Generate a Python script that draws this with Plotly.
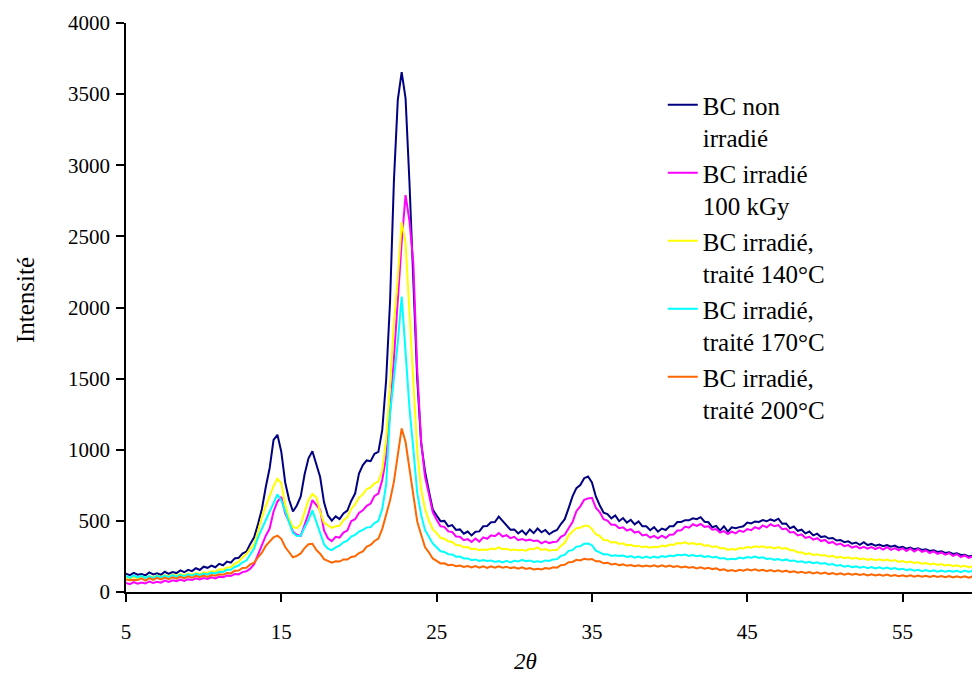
import plotly.graph_objects as go

# 2-theta sampling grid (degrees), 0.25 deg step from 5 to 59.5
two_theta = [round(5 + 0.25 * i, 2) for i in range(219)]

bc_non_irradie = [
    128, 118, 134, 122, 126, 117, 138, 124, 131, 121, 142, 128, 140, 133, 152, 139, 156, 147, 168, 155,
    178, 170, 186, 174, 198, 188, 214, 206, 236, 240, 270, 284, 338, 384, 478, 584, 738, 872, 1070, 1105,
    985, 770, 648, 566, 608, 672, 828, 940, 990, 892, 808, 630, 538, 502, 532, 512, 552, 572, 640, 692,
    832, 892, 925, 920, 972, 985, 1140, 1490, 2040, 2890, 3460, 3655, 3470, 2880, 2250, 1500, 1050, 850, 710, 580,
    538, 498, 500, 462, 470, 436, 440, 410, 425, 398, 424, 426, 462, 464, 490, 492, 530, 498, 468, 438,
    440, 412, 432, 404, 440, 414, 446, 420, 436, 406, 424, 436, 478, 512, 590, 672, 730, 752, 800, 812,
    770, 672, 610, 558, 548, 518, 538, 498, 520, 488, 508, 476, 496, 462, 462, 434, 456, 424, 446, 436,
    462, 462, 492, 492, 505, 504, 518, 512, 526, 494, 490, 455, 465, 432, 462, 424, 455, 448, 456, 462,
    488, 482, 496, 492, 505, 497, 510, 500, 515, 480, 482, 448, 460, 430, 438, 412, 425, 398, 410, 386,
    392, 376, 380, 362, 366, 350, 356, 340, 348, 332, 350, 330, 338, 326, 334, 322, 330, 318, 326, 312,
    318, 305, 312, 300, 308, 296, 300, 288, 294, 282, 286, 275, 280, 268, 272, 260, 262, 250, 255,
]

bc_100kgy = [
    64, 55, 70, 58, 66, 60, 74, 64, 72, 66, 80, 70, 82, 76, 88, 78, 90, 84, 96, 88,
    98, 92, 104, 96, 108, 104, 116, 112, 126, 124, 140, 146, 164, 196, 262, 326, 396, 446, 566, 636,
    668, 552, 496, 424, 402, 394, 466, 552, 646, 612, 578, 432, 378, 358, 388, 382, 418, 432, 498, 512,
    556, 574, 606, 622, 676, 692, 788, 950, 1260, 1640, 2060, 2460, 2790, 2610, 2310, 1560, 1060, 812, 690, 562,
    508, 462, 458, 426, 422, 390, 388, 364, 372, 352, 376, 354, 384, 374, 398, 392, 414, 390, 400, 378,
    388, 364, 372, 362, 368, 358, 362, 342, 356, 344, 352, 354, 388, 402, 448, 492, 568, 602, 648, 658,
    662, 592, 562, 512, 502, 472, 472, 448, 455, 432, 442, 418, 425, 398, 404, 382, 395, 378, 396, 380,
    402, 404, 432, 434, 460, 452, 476, 464, 478, 458, 462, 438, 442, 418, 428, 408, 425, 412, 432, 422,
    442, 434, 456, 444, 468, 454, 476, 462, 470, 442, 446, 418, 422, 398, 405, 380, 388, 368, 378, 358,
    366, 344, 352, 332, 340, 322, 330, 312, 322, 306, 318, 304, 316, 302, 314, 298, 316, 296, 308, 292,
    308, 288, 306, 284, 302, 282, 292, 274, 286, 268, 278, 262, 273, 254, 266, 246, 258, 240, 250,
]

bc_140c = [
    104, 94, 108, 96, 110, 100, 112, 102, 116, 106, 119, 110, 122, 114, 126, 118, 130, 122, 134, 126,
    138, 134, 146, 144, 159, 156, 172, 174, 199, 211, 244, 266, 304, 336, 424, 526, 604, 676, 744, 796,
    764, 616, 514, 456, 449, 476, 564, 646, 689, 666, 564, 486, 469, 451, 462, 466, 504, 526, 584, 616,
    664, 686, 724, 736, 764, 776, 854, 1076, 1454, 1896, 2204, 2600, 2454, 1946, 1504, 996, 724, 586, 504, 441,
    414, 381, 374, 356, 352, 331, 329, 314, 316, 301, 304, 294, 299, 296, 306, 301, 314, 301, 304, 294,
    299, 294, 296, 291, 304, 301, 314, 296, 302, 291, 296, 296, 324, 346, 399, 426, 449, 451, 466, 466,
    444, 406, 394, 366, 364, 348, 352, 338, 342, 328, 332, 321, 324, 314, 319, 312, 318, 314, 326, 321,
    334, 331, 344, 341, 349, 338, 344, 334, 339, 326, 329, 316, 322, 308, 309, 296, 302, 298, 309, 306,
    316, 312, 322, 316, 322, 311, 316, 306, 316, 304, 309, 294, 294, 278, 279, 266, 272, 261, 266, 256,
    259, 248, 254, 242, 248, 238, 244, 234, 240, 230, 236, 226, 232, 224, 230, 221, 228, 218, 224, 212,
    218, 208, 214, 204, 209, 199, 204, 194, 200, 190, 196, 186, 192, 182, 188, 178, 184, 174, 180,
]

bc_170c = [
    114, 100, 116, 102, 114, 100, 112, 98, 114, 102, 116, 104, 118, 106, 120, 110, 124, 114, 128, 118,
    130, 124, 136, 131, 142, 141, 156, 156, 176, 186, 209, 221, 264, 306, 384, 446, 514, 566, 624, 686,
    644, 566, 484, 416, 394, 396, 454, 506, 574, 496, 404, 336, 304, 294, 314, 326, 349, 361, 389, 401,
    424, 436, 454, 456, 484, 501, 584, 756, 1254, 1496, 1754, 2076, 1704, 1296, 1004, 696, 544, 436, 389, 341,
    314, 286, 282, 266, 264, 248, 249, 236, 236, 224, 229, 218, 224, 218, 222, 211, 218, 208, 219, 208,
    219, 214, 226, 216, 222, 211, 216, 211, 222, 218, 229, 231, 254, 261, 289, 294, 319, 321, 339, 341,
    329, 291, 279, 264, 266, 254, 259, 254, 256, 246, 252, 241, 250, 240, 249, 239, 250, 241, 252, 246,
    256, 251, 262, 258, 264, 254, 260, 251, 256, 246, 252, 242, 248, 236, 239, 228, 234, 231, 242, 236,
    246, 241, 250, 240, 244, 232, 236, 226, 232, 222, 229, 218, 222, 211, 216, 206, 212, 202, 209, 199,
    204, 192, 196, 184, 189, 178, 184, 174, 180, 171, 178, 168, 176, 166, 174, 164, 172, 162, 168, 158,
    164, 154, 160, 150, 156, 146, 154, 144, 152, 143, 150, 142, 149, 142, 149, 140, 150, 141, 148,
]

bc_200c = [
    88, 82, 86, 84, 96, 80, 98, 86, 100, 88, 102, 91, 104, 94, 108, 96, 110, 100, 114, 104,
    116, 106, 119, 114, 124, 121, 134, 131, 149, 151, 169, 171, 194, 206, 244, 276, 324, 351, 384, 396,
    374, 316, 279, 244, 254, 271, 309, 336, 339, 296, 269, 231, 219, 206, 216, 214, 229, 228, 246, 251,
    274, 286, 319, 331, 359, 376, 444, 536, 644, 776, 964, 1150, 1054, 866, 674, 496, 404, 316, 279, 236,
    219, 201, 202, 188, 192, 181, 186, 176, 182, 172, 182, 171, 180, 170, 180, 171, 181, 171, 178, 168,
    174, 164, 174, 162, 169, 158, 164, 158, 169, 164, 174, 171, 189, 191, 209, 211, 226, 222, 234, 228,
    232, 216, 216, 202, 206, 194, 199, 188, 194, 184, 190, 181, 188, 179, 186, 179, 188, 178, 187, 178,
    186, 176, 182, 172, 179, 170, 176, 166, 174, 164, 170, 161, 166, 154, 159, 148, 154, 146, 156, 150,
    159, 152, 159, 150, 156, 146, 154, 144, 152, 143, 150, 140, 146, 136, 142, 133, 140, 131, 138, 129,
    136, 126, 133, 124, 131, 122, 130, 121, 128, 119, 126, 117, 124, 116, 123, 115, 122, 113, 120, 111,
    118, 109, 117, 108, 116, 107, 114, 106, 114, 105, 112, 104, 112, 103, 111, 103, 110, 101, 109,
]

series_names = [
    "BC non<br>irradié",
    "BC irradié<br>100 kGy",
    "BC irradié,<br>traité 140°C",
    "BC irradié,<br>traité 170°C",
    "BC irradié,<br>traité 200°C",
]
series_values = [bc_non_irradie, bc_100kgy, bc_140c, bc_170c, bc_200c]
series_colors = ["#000080", "#FF00FF", "#FFFF00", "#00FFFF", "#FF6600"]

x_ticks = [5, 15, 25, 35, 45, 55]
y_ticks = [0, 500, 1000, 1500, 2000, 2500, 3000, 3500, 4000]

FONT = "Liberation Serif, Times New Roman, serif"

fig = go.Figure()
for name, vals, col in zip(series_names, series_values, series_colors):
    fig.add_trace(go.Scatter(
        x=two_theta, y=vals, mode="lines", name=name,
        line=dict(color=col, width=2),
    ))

axis_common = dict(
    showgrid=False, zeroline=False, showline=True, linecolor="black", linewidth=1.5,
    ticks="outside", ticklen=8, tickwidth=1.5, tickcolor="black",
    tickfont=dict(family=FONT, size=21, color="black"),
)

fig.update_xaxes(range=[5, 59.47], tickvals=x_ticks, ticklabelstandoff=12, **axis_common)
fig.update_yaxes(range=[0, 4000], tickvals=y_ticks, ticklabelstandoff=2, **axis_common)

fig.update_layout(
    width=972, height=693,
    margin=dict(l=126, r=0, t=23, b=101),
    plot_bgcolor="white", paper_bgcolor="white",
    font=dict(family=FONT, color="black"),
    legend=dict(
        x=0.6345, y=0.8963, xanchor="left", yanchor="top",
        font=dict(family=FONT, size=25, color="black"),
        bgcolor="rgba(0,0,0,0)", valign="top", tracegroupgap=0,
    ),
    annotations=[
        dict(text="Intensité", textangle=-90, xref="paper", yref="paper",
             x=(25 - 126) / 846, y=0.513, xanchor="center", yanchor="middle",
             showarrow=False, font=dict(family=FONT, size=25, color="black")),
        dict(text="<i>2θ</i>", xref="paper", yref="paper",
             x=(525 - 126) / 846, y=(592 - 661) / 569, xanchor="center", yanchor="middle",
             showarrow=False, font=dict(family=FONT, size=23, color="black")),
    ],
)

fig.write_html("out.html")
